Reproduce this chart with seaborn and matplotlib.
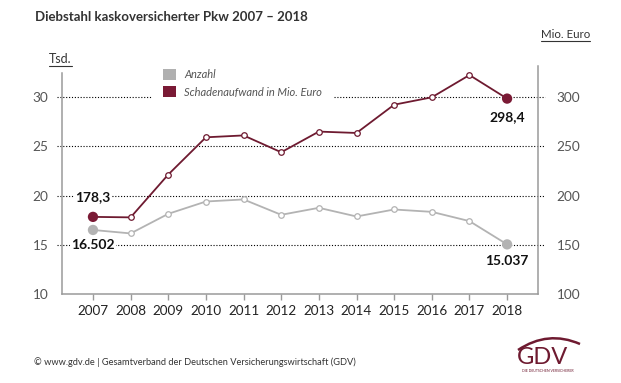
import matplotlib
matplotlib.use('Agg')
import matplotlib.pyplot as plt
import seaborn as sns
import pandas as pd
from matplotlib.patches import Patch, PathPatch
from matplotlib.path import Path
from matplotlib.lines import Line2D

# Data
years = [2007, 2008, 2009, 2010, 2011, 2012, 2013, 2014, 2015, 2016, 2017, 2018]
anzahl_tsd = [16.502, 16.15, 18.14, 19.39, 19.6, 18.04, 18.75, 17.87, 18.58, 18.34, 17.4, 15.037]
schaden_mio = [178.3, 177.8, 221.3, 259.1, 261.0, 243.9, 264.9, 263.5, 292.2, 299.7, 322.3, 298.4]
left_ticks = [10, 15, 20, 25, 30]
right_ticks = [100, 150, 200, 250, 300]

GRAY = '#b3b3b3'
MAROON = '#6e1a30'
MAROON_FILL = '#7a1a35'
SPINE = '#9a9a9a'

sns.set_theme(style='white')
plt.rcParams['font.family'] = ['Lato', 'DejaVu Sans']

df = pd.DataFrame({'Jahr': years, 'Anzahl': anzahl_tsd, 'Schaden': schaden_mio})

fig = plt.figure(figsize=(6.21, 3.83), dpi=100)
ax = fig.add_axes([0.0994, 0.2324, 0.7669, 0.594])
ax2 = ax.twinx()

ax.set_xlim(2006.17, 2018.82)
ax.set_ylim(10, 33.1)
ax2.set_ylim(100, 331)

# dotted gridlines, extending slightly past the spines, broken behind the legend
grid_kw = dict(colors='black', linestyles=(0, (1, 1.6)), linewidth=0.8, clip_on=False, zorder=1)
for v in left_ticks[1:-1]:
    ax.hlines(v, 2006.05, 2019.01, **grid_kw)
ax.hlines(30, 2006.05, 2008.57, **grid_kw)
ax.hlines(30, 2013.4, 2019.01, **grid_kw)

# Anzahl (left axis)
sns.lineplot(data=df, x='Jahr', y='Anzahl', ax=ax, color=GRAY, linewidth=1.3,
             marker='o', markersize=4, markerfacecolor='white',
             markeredgecolor=GRAY, markeredgewidth=0.9, zorder=3)
ends = df.iloc[[0, -1]]
sns.scatterplot(data=ends, x='Jahr', y='Anzahl', ax=ax, color=GRAY, s=55,
                edgecolor='none', zorder=4)

# Schadenaufwand (right axis)
sns.lineplot(data=df, x='Jahr', y='Schaden', ax=ax2, color=MAROON, linewidth=1.3,
             marker='o', markersize=4, markerfacecolor='white',
             markeredgecolor=MAROON, markeredgewidth=0.9, zorder=3)
sns.scatterplot(data=ends, x='Jahr', y='Schaden', ax=ax2, color=MAROON_FILL, s=55,
                edgecolor='none', zorder=4)

# spines
for a in (ax, ax2):
    a.spines['top'].set_visible(False)
    a.set_xlabel('')
    a.set_ylabel('')
ax.spines['right'].set_visible(False)
ax2.spines['left'].set_visible(False)
ax2.spines['bottom'].set_visible(False)
ax.spines['left'].set_bounds(10, 32.45)
for s in (ax.spines['left'], ax.spines['bottom'], ax2.spines['right']):
    s.set_color(SPINE)
    s.set_linewidth(1.1)

ax.set_xticks(years)
ax.set_xticklabels([str(y) for y in years])
ax.set_yticks(left_ticks)
ax2.set_yticks(right_ticks)
ax.tick_params(axis='x', direction='out', length=4, width=1, color=SPINE,
               labelsize=9.7, labelcolor='#222222', pad=4, bottom=True)
ax.tick_params(axis='y', length=0, labelsize=9.8, labelcolor='#555555', pad=9.5)
ax2.tick_params(axis='y', length=0, labelsize=9.8, labelcolor='#555555', pad=13.5)
ax.set_yticklabels([str(v) for v in left_ticks])
ax2.set_yticklabels([str(v) for v in right_ticks])

# value labels
lbl = dict(ha='center', va='center', fontsize=10, fontweight='bold', color='#111111',
           bbox=dict(facecolor='white', edgecolor='none', pad=1), zorder=5)
ax.text(years[0], 19.85, '178,3', **lbl)
ax.text(years[0], 14.97, '16.502', **lbl)
ax.text(years[-1], 13.35, '15.037', **lbl)
ax.text(years[-1], 28.0, '298,4', **lbl)

# legend
handles = [Patch(facecolor='#b0b0b0', edgecolor='none', label='Anzahl'),
           Patch(facecolor=MAROON_FILL, edgecolor='none', label='Schadenaufwand in Mio. Euro')]
leg = fig.legend(handles=handles, loc='upper left', bbox_to_anchor=(163 / 621, 1 - 69 / 383),
                 frameon=False, borderpad=0, borderaxespad=0, handlelength=1.15,
                 handleheight=1.15, handletextpad=0.75, labelspacing=0.55,
                 prop={'size': 8, 'style': 'italic'})
for t in leg.get_texts():
    t.set_color('#555555')

# titles / units
fig.text(35 / 621, 1 - 17 / 383, 'Diebstahl kaskoversicherter Pkw 2007 \u2013 2018',
         ha='left', va='center', fontsize=9.5, fontweight='bold', color='#333333')
unit_l = fig.text(49 / 621, 1 - 59 / 383, 'Tsd.', ha='left', va='center',
                  fontsize=9, color='#333333')
unit_r = fig.text(541 / 621, 1 - 34 / 383, 'Mio. Euro', ha='left', va='center',
                  fontsize=8.3, color='#333333')

# footer
fig.text(34 / 621, 1 - 362 / 383,
         '\u00a9 www.gdv.de | Gesamtverband der Deutschen Versicherungswirtschaft (GDV)',
         ha='left', va='center', fontsize=6.7, color='#333333')

# GDV logo
fig.text(543 / 621, 1 - 357 / 383, 'GDV', ha='center', va='center', fontsize=17,
         color='#6e1a30')
fig.text(548 / 621, 1 - 371 / 383, 'DIE DEUTSCHEN VERSICHERER', ha='center', va='center',
         fontsize=2.5, color='#6e1a30')
swoosh = Path([(518 / 621, 1 - 350 / 383), (548 / 621, 1 - 330 / 383), (580 / 621, 1 - 344 / 383)],
              [Path.MOVETO, Path.CURVE3, Path.CURVE3])
fig.patches.append(PathPatch(swoosh, transform=fig.transFigure, facecolor='none',
                             edgecolor='#6e1a30', linewidth=1.8))

# underline the unit labels, just below the glyphs
fig.canvas.draw()
renderer = fig.canvas.get_renderer()
for t in (unit_l, unit_r):
    bb = t.get_window_extent(renderer).transformed(fig.transFigure.inverted())
    y = bb.y0 - 0.003
    fig.add_artist(Line2D([bb.x0, bb.x1], [y, y], transform=fig.transFigure,
                          color='#333333', linewidth=0.8))

fig.savefig('out.png', dpi=100)
